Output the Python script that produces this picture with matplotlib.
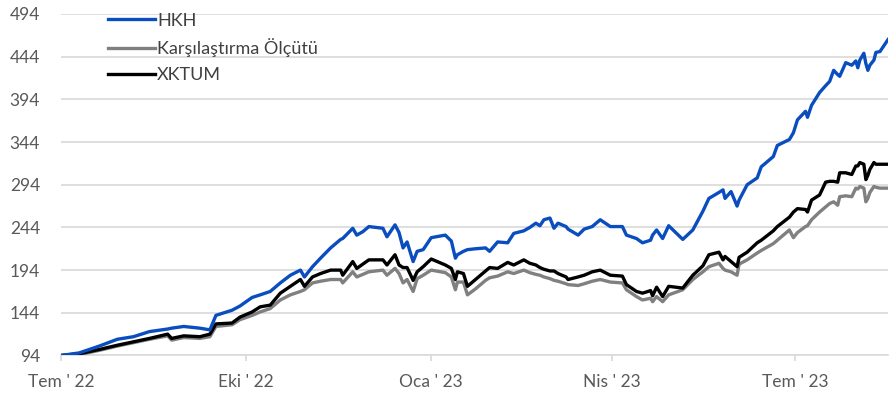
import pandas as pd
import matplotlib.pyplot as plt

plt.rcParams['font.family'] = ['Lato', 'DejaVu Sans']

dates = ['2022-07-01', '2022-07-10', '2022-07-20', '2022-07-29', '2022-08-06', '2022-08-14',
         '2022-08-23', '2022-08-25', '2022-08-31', '2022-09-08', '2022-09-13', '2022-09-16',
         '2022-09-24', '2022-09-28', '2022-10-04', '2022-10-08', '2022-10-13', '2022-10-18',
         '2022-10-23', '2022-10-28', '2022-10-30', '2022-11-03', '2022-11-07', '2022-11-12',
         '2022-11-17', '2022-11-18', '2022-11-23', '2022-11-25', '2022-11-28', '2022-12-01',
         '2022-12-08', '2022-12-10', '2022-12-14', '2022-12-16', '2022-12-18', '2022-12-20',
         '2022-12-23', '2022-12-25', '2022-12-28', '2023-01-01', '2023-01-08', '2023-01-11',
         '2023-01-13', '2023-01-14', '2023-01-17', '2023-01-19', '2023-01-23', '2023-01-28',
         '2023-01-30', '2023-02-03', '2023-02-08', '2023-02-11', '2023-02-16', '2023-02-19',
         '2023-02-22', '2023-02-24', '2023-02-26', '2023-03-01', '2023-03-03', '2023-03-05',
         '2023-03-09', '2023-03-10', '2023-03-15', '2023-03-18', '2023-03-22', '2023-03-26',
         '2023-03-31', '2023-04-06', '2023-04-08', '2023-04-13', '2023-04-16', '2023-04-20',
         '2023-04-21', '2023-04-23', '2023-04-26', '2023-04-29', '2023-05-06', '2023-05-11',
         '2023-05-16', '2023-05-19', '2023-05-24', '2023-05-26', '2023-05-27', '2023-05-30',
         '2023-06-02', '2023-06-03', '2023-06-07', '2023-06-12', '2023-06-14', '2023-06-20',
         '2023-06-22', '2023-06-28', '2023-06-30', '2023-07-02', '2023-07-06', '2023-07-07',
         '2023-07-09', '2023-07-13', '2023-07-16', '2023-07-18', '2023-07-20', '2023-07-22',
         '2023-07-23', '2023-07-26', '2023-07-29', '2023-07-31', '2023-08-01', '2023-08-02',
         '2023-08-04', '2023-08-05', '2023-08-06', '2023-08-07', '2023-08-09', '2023-08-10',
         '2023-08-12', '2023-08-16']

hkh = [94, 97, 105, 113, 116, 122, 125, 126, 128, 126, 124, 141,
       147, 152, 162, 165, 169, 179, 188, 194, 186, 198, 208, 220,
       230, 231, 243, 235, 239, 245, 243, 233, 247, 238, 220, 227,
       204, 216, 218, 232, 235, 228, 208, 212, 216, 218, 219, 220,
       216, 227, 226, 237, 240, 244, 249, 246, 253, 255, 243, 249,
       245, 242, 235, 242, 245, 253, 245, 245, 235, 231, 226, 229,
       235, 241, 231, 246, 230, 241, 263, 278, 285, 288, 278, 286,
       269, 276, 294, 302, 315, 327, 340, 347, 355, 370, 380, 373,
       387, 402, 410, 415, 428, 423, 421, 437, 434, 439, 431, 440,
       448, 436, 428, 434, 440, 449, 450, 464]

xktum = [94, 96, 101, 106, 110, 114, 119, 114, 117, 116, 119, 131,
         132, 139, 145, 151, 153, 167, 175, 183, 175, 186, 190, 194,
         194, 188, 204, 196, 201, 206, 206, 200, 212, 200, 197, 197,
         182, 192, 198, 207, 200, 196, 183, 192, 190, 175, 183, 193,
         197, 196, 203, 200, 206, 202, 200, 197, 195, 193, 193, 190,
         186, 183, 186, 188, 192, 194, 188, 187, 177, 169, 167, 170,
         164, 174, 163, 175, 173, 188, 199, 212, 215, 206, 210, 204,
         198, 209, 215, 226, 229, 240, 245, 256, 262, 266, 265, 262,
         276, 282, 297, 298, 298, 297, 308, 308, 306, 316, 316, 320,
         318, 300, 305, 312, 320, 318, 318, 318]

olcut = [94, 95, 100, 105, 109, 113, 117, 112, 115, 114, 116, 128,
         130, 136, 141, 145, 149, 159, 165, 169, 171, 179, 181, 183,
         183, 179, 192, 186, 189, 192, 194, 188, 196, 190, 179, 183,
         169, 184, 188, 194, 191, 186, 171, 180, 180, 165, 172, 182,
         185, 187, 192, 190, 194, 191, 189, 188, 186, 184, 182, 181,
         178, 177, 176, 178, 181, 183, 180, 179, 171, 163, 159, 161,
         157, 163, 157, 165, 171, 183, 192, 198, 202, 196, 194, 192,
         188, 201, 206, 214, 217, 225, 229, 241, 232, 238, 245, 246,
         253, 262, 268, 272, 274, 270, 280, 281, 280, 290, 289, 292,
         290, 274, 278, 285, 292, 291, 290, 290]

x = pd.to_datetime(dates)

fig = plt.figure(figsize=(8.93, 4.03), dpi=100)
ax = fig.add_axes([0.0683, 0.1179, 0.9261, 0.8474])

ax.plot(x, olcut, color='#808080', lw=2.4, label='Karşılaştırma Ölçütü', zorder=3)
ax.plot(x, xktum, color='#000000', lw=2.4, label='XKTUM', zorder=4)
ax.plot(x, hkh, color='#0a4dbf', lw=2.4, label='HKH', zorder=5)

ax.set_xlim(pd.Timestamp('2022-07-01'), pd.Timestamp('2023-08-16'))
ax.set_ylim(94, 494)
ax.set_yticks(range(94, 495, 50))

ticks = pd.to_datetime(['2022-07-01', '2022-10-01', '2023-01-01', '2023-04-01', '2023-07-01'])
ax.set_xticks(ticks)
ax.set_xticklabels(["Tem ' 22", "Eki ' 22", "Oca ' 23", "Nis ' 23", "Tem ' 23"])

ax.grid(axis='y', color='#d9d9d9', lw=1.2)
ax.set_axisbelow(True)
for s in ['top', 'right', 'left']:
    ax.spines[s].set_visible(False)
ax.spines['bottom'].set_color('#d9d9d9')
ax.spines['bottom'].set_linewidth(1.2)

ax.tick_params(axis='y', length=0, pad=15, labelsize=12.5, labelcolor='#595959')
ax.tick_params(axis='x', length=4, width=1.2, color='#d9d9d9', pad=9,
               labelsize=12.5, labelcolor='#595959')

# legend order as in the original: HKH, benchmark, XKTUM
h, l = ax.get_legend_handles_labels()
order = [2, 0, 1]
leg = ax.legend([h[i] for i in order], [l[i] for i in order], loc='upper left',
                bbox_to_anchor=(0.057, 1.004), frameon=False, fontsize=13,
                handlelength=2.6, handletextpad=0.1, labelspacing=0.55,
                borderpad=0, borderaxespad=0)
for t in leg.get_texts():
    t.set_color('#404040')

fig.savefig('out.png', dpi=100)
